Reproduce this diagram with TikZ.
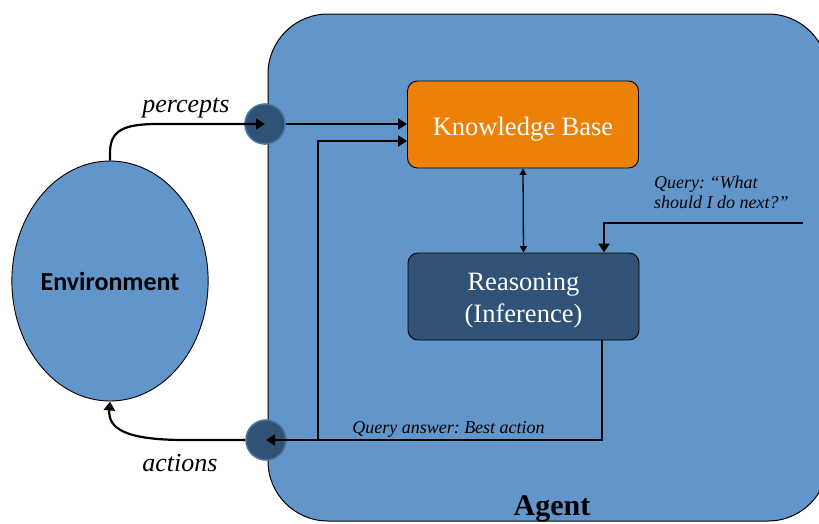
\documentclass[tikz,border=0pt]{standalone}
\usepackage{fontspec}
\setmainfont{Liberation Serif}
\newfontfamily\envfont{Carlito}
\usetikzlibrary{arrows.meta,shapes.geometric}
\definecolor{agentblue}{RGB}{98,150,202}
\definecolor{darkblue}{RGB}{47,82,118}
\definecolor{portedge}{RGB}{74,116,160}
\definecolor{kborange}{RGB}{237,128,6}
\frenchspacing
\tikzset{
  agentbox/.style={draw=black, line width=1pt, fill=agentblue, rounded corners=60pt, inner sep=0pt},
  envnode/.style={ellipse, draw=black, line width=0.9pt, fill=agentblue, minimum width=192pt, minimum height=240pt, inner sep=0pt, font=\envfont\bfseries\fontsize{26}{31}\selectfont},
  port/.style={circle, draw=portedge, line width=1.6pt, fill=darkblue, minimum size=40pt, inner sep=0pt},
  kbbox/.style={draw=black, line width=0.9pt, fill=kborange, rounded corners=10pt, minimum width=231pt, minimum height=87pt, inner sep=0pt, text=white, font=\fontsize{26.5}{31}\selectfont, text height=21pt, text depth=0pt},
  rbox/.style={draw=black, line width=0.9pt, fill=darkblue, rounded corners=10pt, minimum width=231pt, minimum height=87pt, inner sep=0pt, text=white, align=center, font=\fontsize{26.5}{32}\selectfont, text height=52pt, text depth=0pt},
  arr/.style={line width=2.2pt, -{Triangle[length=9pt,width=11pt]}},
  darr/.style={line width=1.3pt, {Triangle[length=6.5pt,width=7pt]}-{Triangle[length=6.5pt,width=7pt]}},
  biglabel/.style={font=\itshape\fontsize{26}{31}\selectfont, inner sep=0pt},
  smalllabel/.style={font=\itshape\fontsize{18}{20}\selectfont, inner sep=0pt}
}
\begin{document}
\begin{tikzpicture}[x=1pt,y=-1pt]
\useasboundingbox (0,0) rectangle (819,523);
\node[agentbox, minimum width=560pt, minimum height=507pt] (agent) at (548,267.5) {};
\node[anchor=base, font=\bfseries\fontsize{30}{36}\selectfont, inner sep=0pt] (agentlbl) at (552,515) {Agent};
\node[envnode] (env) at (110,281) {Environment};
\node[port] (pin) at (265,124) {};
\node[port] (pout) at (266,440) {};
\node[kbbox] (kb) at (523,124.5) {Knowledge Base};
\node[rbox] (reason) at (523.5,296.5) {Reasoning\\(Inference)};
% percepts
\draw[arr] (env.north) -- (110,153) .. controls (110,130) and (124,124) .. (158,124) -- (pin.center);
\draw[arr] (pin.east) -- (kb.west |- pin.east);
% feedback from action line to KB
\coordinate (fb) at (318,440);
\draw[arr] (fb) |- ([yshift=-16.5pt]kb.west);
% KB <-> reasoning
\draw[darr] (kb.south) -- (reason.north);
% query
\coordinate (qs) at (803,223);
\draw[arr] (qs) -| ([xshift=80.5pt]reason.north);
% answer
\draw[arr] ([xshift=78.5pt]reason.south) |- (pout.center);
% actions
\draw[arr] (pout.west) -- (185,440) .. controls (124,440) and (108,428) .. (env.south);
% labels
\node[biglabel, anchor=base] (lp) at (186,112) {percepts};
\node[biglabel, anchor=base] (la) at (180,471) {actions};
\node[smalllabel, anchor=base] (lqa) at (448.5,433) {Query answer: Best action};
\node[smalllabel, anchor=base west, align=left] (lq) at (654,208) {Query: “What\\should I do next?”};
\end{tikzpicture}
\end{document}
